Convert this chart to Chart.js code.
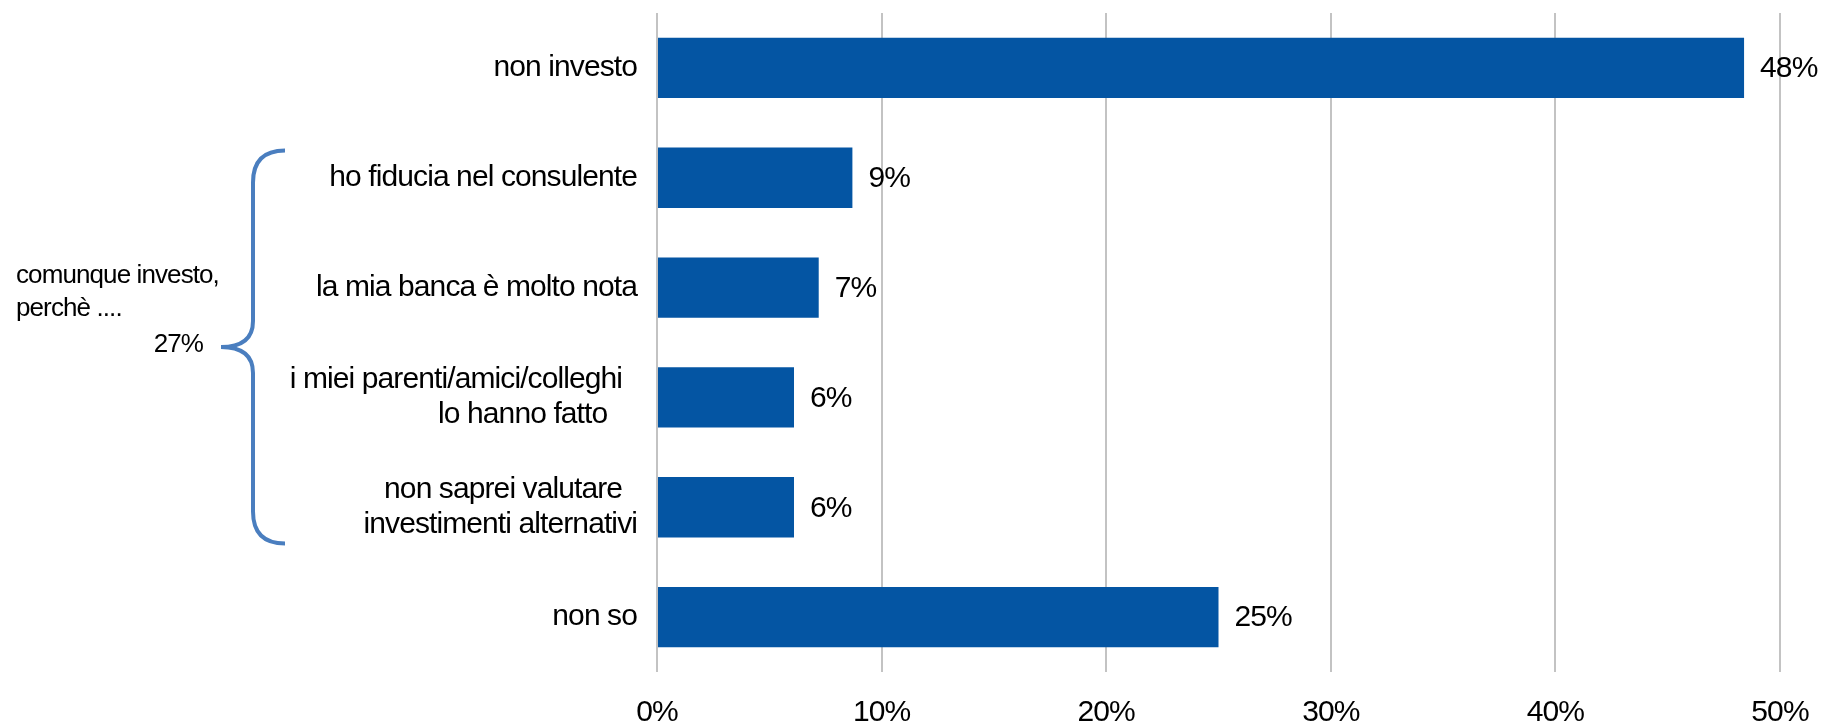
<!DOCTYPE html>
<html>
<head>
<meta charset="utf-8">
<script src="https://cdn.jsdelivr.net/npm/chart.js@4.4.1/dist/chart.umd.min.js"></script>
<style>
    body { margin: 0; background: #fff; }
    #box { width: 1823px; height: 725px; }
</style>
</head>
<body>
<div id="box"><canvas id="reasons" width="1823" height="725"></canvas></div>
<script>
// answers (share of respondents, %)
const answers = [
    "non investo",
    "ho fiducia nel consulente",
    "la mia banca è molto nota",
    ["i miei parenti/amici/colleghi  ", "lo hanno fatto    "],
    ["non saprei valutare  ", "investimenti alternativi"],
    "non so"
];
const shares = [48.4, 8.7, 7.2, 6.1, 6.1, 25.0];
const xTicks = [0, 10, 20, 30, 40, 50];

// group note on the left, covering answers 1..4
const groupLines = ["comunque investo,", "perchè ...."];
const groupShare = 27;
const groupFirst = 1;
const groupLast = 4;

const FONT = "'Liberation Sans', Arial, sans-serif";
const barBlue = "#0455a3";
const braceBlue = "#4a7ebf";

// slightly tighter text, applied to the chart context before measuring
const tightText = {
    id: "tightText",
    beforeLayout(chart) { chart.ctx.letterSpacing = "-0.9px"; },
    beforeDraw(chart) { chart.ctx.letterSpacing = "-0.9px"; }
};

// value labels at the end of every bar
const valueLabels = {
    id: "valueLabels",
    afterDatasetsDraw(chart) {
        var ctx = chart.ctx;
        var meta = chart.getDatasetMeta(0);
        ctx.save();
        ctx.font = "30px " + FONT;
        ctx.fillStyle = "#000";
        ctx.textAlign = "left";
        ctx.textBaseline = "middle";
        meta.data.forEach(function(bar, i) {
            ctx.fillText(Math.round(shares[i]) + "%", bar.x + 16, bar.y + 1);
        });
        ctx.restore();
    }
};

// curly brace + text grouping the "comunque investo" answers
const groupBrace = {
    id: "groupBrace",
    afterDraw(chart) {
        var ctx = chart.ctx;
        var meta = chart.getDatasetMeta(0);
        var first = meta.data[groupFirst];
        var last = meta.data[groupLast];
        var top = first.y - first.height / 2 + 3;
        var bottom = last.y + last.height / 2 + 6;
        var mid = (top + bottom) / 2;
        var xl = 253, xr = 285, tip = 221, r = 32;

        ctx.save();
        ctx.strokeStyle = braceBlue;
        ctx.lineWidth = 4;
        ctx.beginPath();
        ctx.moveTo(xr, top);
        ctx.quadraticCurveTo(xl, top, xl, top + r);
        ctx.lineTo(xl, mid - 26);
        ctx.quadraticCurveTo(xl, mid, tip, mid);
        ctx.quadraticCurveTo(xl, mid, xl, mid + 26);
        ctx.lineTo(xl, bottom - r);
        ctx.quadraticCurveTo(xl, bottom, xr, bottom);
        ctx.stroke();

        ctx.font = "26px " + FONT;
        ctx.fillStyle = "#000";
        ctx.textBaseline = "alphabetic";
        ctx.textAlign = "left";
        ctx.fillText(groupLines[0], 16, mid - 64);
        ctx.fillText(groupLines[1], 16, mid - 31);
        ctx.textAlign = "right";
        ctx.fillText(groupShare + "%", 203, mid + 5);
        ctx.restore();
    }
};

new Chart("reasons", {
    type: "bar",
    data: {
        labels: answers,
        datasets: [{
            data: shares,
            backgroundColor: barBlue,
            borderWidth: 0,
            barPercentage: 0.55,
            categoryPercentage: 1.0
        }]
    },
    options: {
        indexAxis: "y",
        responsive: false,
        animation: false,
        layout: { padding: { top: 13, right: 43, left: 0, bottom: 0 } },
        plugins: {
            legend: { display: false },
            tooltip: { enabled: false }
        },
        scales: {
            x: {
                min: xTicks[0],
                max: xTicks[xTicks.length - 1],
                afterBuildTicks: function(scale) {
                    scale.ticks = xTicks.map(v => ({ value: v }));
                },
                afterFit: function(scale) {
                    scale.height = 53;
                    scale.paddingLeft = 0;
                    scale.paddingRight = 0;
                },
                border: { display: false },
                grid: { color: "#c3c3c3", lineWidth: 2, drawTicks: false },
                ticks: {
                    padding: 23,
                    color: "#000",
                    font: { family: FONT, size: 30 },
                    callback: v => v + "%"
                }
            },
            y: {
                afterFit: function(scale) {
                    scale.width = 657;
                    scale.paddingTop = 0;
                    scale.paddingBottom = 0;
                },
                border: { display: false },
                grid: { display: false, drawTicks: false },
                ticks: {
                    padding: 20,
                    color: "#000",
                    font: { family: FONT, size: 30, lineHeight: 1.17 }
                }
            }
        }
    },
    plugins: [tightText, valueLabels, groupBrace]
});
</script>
</body>
</html>
